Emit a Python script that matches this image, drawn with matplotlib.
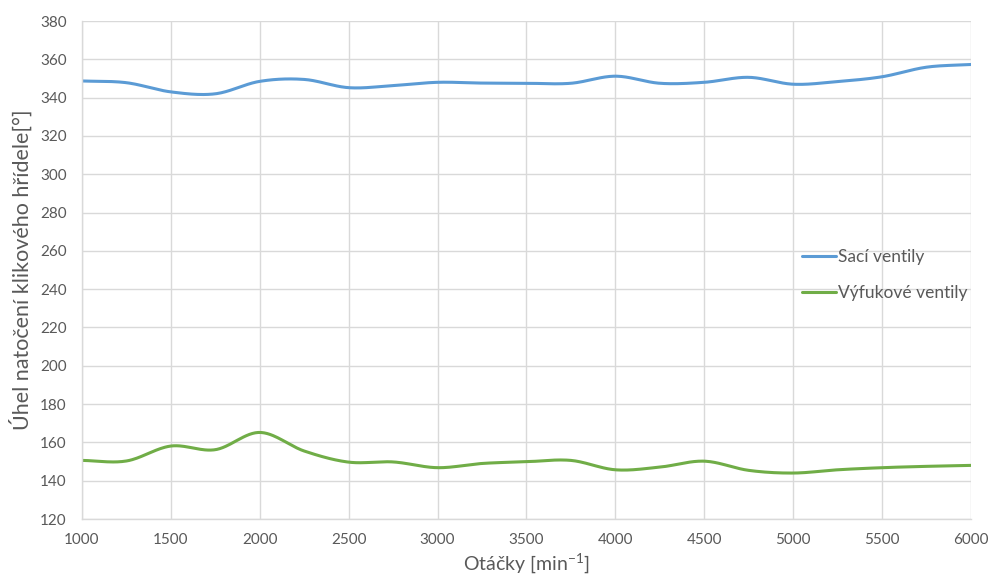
import numpy as np
import matplotlib.pyplot as plt

rpm = [1000, 1250, 1500, 1750, 2000, 2250, 2500, 2750, 3000, 3250, 3500,
       3750, 4000, 4250, 4500, 4750, 5000, 5250, 5500, 5750, 6000]
saci = [348.7, 347.8, 343.0, 342.0, 348.5, 349.5, 345.2, 346.3, 348.0, 347.6, 347.5,
        347.5, 351.2, 347.5, 348.0, 350.6, 347.0, 348.4, 350.9, 355.9, 357.3]
vyfuk = [150.6, 150.3, 158.1, 156.2, 165.2, 155.5, 149.7, 149.8, 146.8, 149.0, 149.9,
         150.6, 145.7, 147.1, 150.2, 145.4, 144.0, 145.7, 146.8, 147.5, 148.0]

yticks = list(range(120, 381, 20))
xticks = list(range(1000, 6001, 500))


def smooth(x, y, n=30):
    # catmull-rom, roughly what excel does for smoothed lines
    x = np.asarray(x, float)
    y = np.asarray(y, float)
    px = np.concatenate([[2 * x[0] - x[1]], x, [2 * x[-1] - x[-2]]])
    py = np.concatenate([[2 * y[0] - y[1]], y, [2 * y[-1] - y[-2]]])
    t = np.linspace(0, 1, n, endpoint=False)[:, None]
    xs, ys = [], []
    for i in range(1, len(px) - 2):
        for p, out in ((px, xs), (py, ys)):
            p0, p1, p2, p3 = p[i - 1], p[i], p[i + 1], p[i + 2]
            v = 0.5 * (2 * p1 + (-p0 + p2) * t + (2 * p0 - 5 * p1 + 4 * p2 - p3) * t**2
                       + (-p0 + 3 * p1 - 3 * p2 + p3) * t**3)
            out.append(v.ravel())
    xs.append([x[-1]])
    ys.append([y[-1]])
    return np.concatenate(xs), np.concatenate(ys)


plt.rcParams['font.family'] = ['Lato', 'DejaVu Sans']
plt.rcParams['mathtext.default'] = 'regular'

fig = plt.figure(figsize=(9.91, 5.79), dpi=100)
ax = fig.add_axes([0.0827, 0.1036, 0.8971, 0.8601])

ax.plot(*smooth(rpm, saci), color='#5B9BD5', lw=2.2, label='Sací ventily',
        solid_capstyle='round')
ax.plot(*smooth(rpm, vyfuk), color='#70AD47', lw=2.2, label='Výfukové ventily',
        solid_capstyle='round')

ax.set_xlim(1000, 6000)
ax.set_ylim(120, 380)
ax.set_xticks(xticks)
ax.set_yticks(yticks)
ax.grid(True, color='#d9d9d9', lw=1)
ax.set_axisbelow(True)
for s in ['top', 'right']:
    ax.spines[s].set_visible(False)
for s in ['left', 'bottom']:
    ax.spines[s].set_color('#d9d9d9')
    ax.spines[s].set_linewidth(1)
ax.tick_params(length=0, labelsize=11, labelcolor='#595959')
ax.tick_params(axis='y', pad=11)
ax.tick_params(axis='x', pad=10)

ax.set_xlabel('Otáčky [min$^{-1}$]', fontsize=14, color='#595959', labelpad=3)
ax.set_ylabel('Úhel natočení klikového hřídele[°]', fontsize=15.5, color='#595959',
              labelpad=5)

ax.legend(loc='center left', bbox_to_anchor=(0.792, 0.49), frameon=False,
          fontsize=12.5, labelcolor='#595959', handlelength=2.0, handletextpad=0.1,
          labelspacing=1.2)

fig.savefig('out.png', dpi=100)
